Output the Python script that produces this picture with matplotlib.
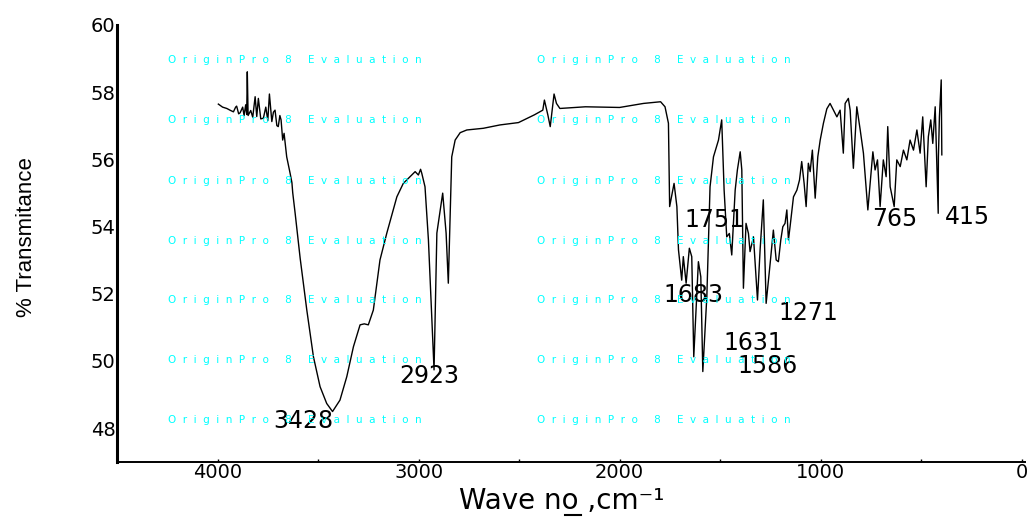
import matplotlib as mpl
import matplotlib.pyplot as plt
from matplotlib.lines import Line2D
from matplotlib.ticker import MultipleLocator

mpl.use('Agg')

# IR spectrum
wavenumber = [3996, 3975, 3954, 3935, 3921, 3910, 3905, 3895, 3888, 3875, 3868, 3860, 3855, 3852, 3848,
              3835, 3825, 3813, 3805, 3797, 3785, 3772, 3760, 3750, 3742, 3730, 3722, 3714, 3705, 3698,
              3690, 3684, 3676, 3669, 3656, 3639, 3630, 3626, 3614, 3589, 3556, 3523, 3490, 3457, 3428,
              3391, 3357, 3324, 3291, 3270, 3250, 3225, 3192, 3158, 3108, 3076, 3017, 3001, 2990, 2984,
              2968, 2951, 2923, 2909, 2880, 2863, 2852, 2835, 2818, 2793, 2760, 2678, 2595, 2503, 2424,
              2382, 2374, 2357, 2345, 2326, 2314, 2297, 2170, 2000, 1881, 1796, 1774, 1757, 1751, 1729,
              1715, 1707, 1691, 1683, 1669, 1653, 1641, 1631, 1608, 1596, 1586, 1566, 1550, 1533, 1508,
              1492, 1480, 1467, 1454, 1442, 1425, 1414, 1400, 1392, 1384, 1371, 1359, 1351, 1334, 1314,
              1301, 1285, 1271, 1251, 1235, 1221, 1210, 1198, 1188, 1177, 1168, 1160, 1152, 1135, 1118,
              1105, 1094, 1082, 1072, 1061, 1052, 1041, 1027, 1014, 1002, 986, 969, 953, 936, 919,
              903, 887, 878, 862, 853, 837, 820, 803, 787, 775, 765, 740, 729, 717, 704,
              688, 674, 666, 654, 634, 621, 604, 588, 571, 555, 538, 521, 505, 492, 475,
              464, 452, 442, 430, 422, 415, 414, 409, 400, 397]
transmittance = [57.64, 57.55, 57.51, 57.45, 57.41, 57.55, 57.58, 57.35, 57.38, 57.55, 57.30, 57.62, 57.33, 58.60, 57.30,
                 57.45, 57.25, 57.86, 57.27, 57.81, 57.20, 57.22, 57.55, 57.15, 57.94, 57.12, 57.40, 57.46, 57.00, 56.97,
                 57.30, 57.17, 56.57, 56.77, 56.07, 55.58, 55.30, 55.00, 54.39, 53.05, 51.51, 50.12, 49.23, 48.73, 48.49,
                 48.83, 49.53, 50.42, 51.07, 51.10, 51.07, 51.51, 53.00, 53.80, 54.88, 55.28, 55.63, 55.53, 55.70, 55.58,
                 55.18, 53.60, 49.73, 53.80, 54.99, 53.80, 52.31, 56.07, 56.57, 56.79, 56.87, 56.92, 57.02, 57.09, 57.32,
                 57.46, 57.76, 57.32, 56.97, 57.94, 57.66, 57.51, 57.56, 57.54, 57.66, 57.71, 57.56, 57.07, 54.59, 55.28,
                 54.59, 53.30, 52.40, 53.10, 52.31, 53.35, 53.10, 50.12, 52.95, 52.50, 49.68, 51.91, 55.18, 56.07, 56.57,
                 57.17, 55.08, 53.69, 53.79, 53.15, 55.08, 55.68, 56.22, 55.68, 52.16, 54.09, 53.79, 53.25, 53.69, 51.81,
                 53.30, 54.79, 51.71, 52.90, 53.89, 53.00, 52.95, 53.60, 53.99, 54.09, 54.49, 53.60, 53.99, 54.88, 55.08,
                 55.38, 55.93, 55.28, 54.59, 55.88, 55.63, 56.27, 54.84, 56.07, 56.57, 57.07, 57.50, 57.66, 57.46, 57.26,
                 57.46, 56.18, 57.66, 57.81, 57.46, 55.73, 57.56, 56.87, 56.18, 55.28, 54.49, 56.22, 55.68, 55.98, 54.59,
                 55.98, 55.48, 56.97, 55.18, 54.59, 55.98, 55.78, 56.27, 55.98, 56.57, 56.27, 56.87, 56.18, 57.26, 55.18,
                 56.67, 57.17, 56.47, 57.56, 55.88, 54.39, 56.07, 57.26, 58.36, 56.13]

# peak annotations (text centre x, baseline y)
peak_labels = ['3428', '2923', '1751', '1683', '1271', '1631', '1586', '765', '415']
peak_label_x = [3574, 2949, 1526, 1633, 1062, 1337, 1266, 633, 271]
peak_label_y = [47.99, 49.33, 53.99, 51.74, 51.21, 50.32, 49.65, 54.02, 54.07]

x_ticks = [4000, 3000, 2000, 1000, 0]
y_ticks = [48, 50, 52, 54, 56, 58, 60]

plt.rcParams['font.family'] = ['DejaVu Sans']

fig = plt.figure(figsize=(10.33, 5.2), dpi=100)
ax = fig.add_axes([0.1133, 0.1123, 0.8790, 0.8400])

ax.plot(wavenumber, transmittance, color='black', linewidth=1.0, zorder=2)

ax.set_xlim(4500, -17)
ax.set_ylim(47, 60)
ax.set_xticks(x_ticks)
ax.set_yticks(y_ticks)
ax.xaxis.set_minor_locator(MultipleLocator(500))

for side in ['top', 'right']:
    ax.spines[side].set_visible(False)
ax.spines['left'].set_linewidth(2.2)
ax.spines['bottom'].set_linewidth(1.4)

ax.tick_params(axis='x', which='both', direction='in', length=2, width=1, labelsize=14, pad=1)
ax.tick_params(axis='y', which='both', length=0, labelsize=14, pad=1)

xlabel = 'Wave no ,cm\u207b\u00b9'
ax.set_xlabel(xlabel, fontsize=20)
ax.xaxis.set_label_coords(0.49, -0.058)
ax.set_ylabel('% Transmitance', fontsize=16, family=['Liberation Sans', 'DejaVu Sans'])
ax.yaxis.set_label_coords(-0.088, 0.514)

# evaluation watermark as in the source export
wm = '  '.join('OriginPro') + '     8     ' + '  '.join('Evaluation')
for py in [60, 120, 181, 241, 300, 360, 420]:
    for px in [168, 537]:
        fig.text(px / 1033, 1 - py / 520, wm, color='#00FFFF', fontsize=7.5,
                 ha='left', va='center', zorder=3)

for lab, lx, ly in zip(peak_labels, peak_label_x, peak_label_y):
    ax.text(lx, ly, lab, fontsize=17, ha='center', va='baseline', zorder=4)

# underline the "o" of "no" in the x label
fig.canvas.draw()
renderer = fig.canvas.get_renderer()
lab_artist = ax.xaxis.label
prop = lab_artist.get_fontproperties()
bb = lab_artist.get_window_extent(renderer)
_, _, descent = renderer.get_text_width_height_descent(xlabel, prop, ismath=False)
w_pre, _, _ = renderer.get_text_width_height_descent('Wave n', prop, ismath=False)
w_o, _, _ = renderer.get_text_width_height_descent('o', prop, ismath=False)
base = bb.y0 + descent - 3
ux = bb.x0 + w_pre + 3
to_fig = fig.transFigure.inverted()
(x0, y0), (x1, _) = to_fig.transform([(ux, base), (ux + w_o - 1, base)])
fig.add_artist(Line2D([x0, x1], [y0, y0], color='black', linewidth=1.5))

fig.savefig('out.png', dpi=100)
plt.close('all')
